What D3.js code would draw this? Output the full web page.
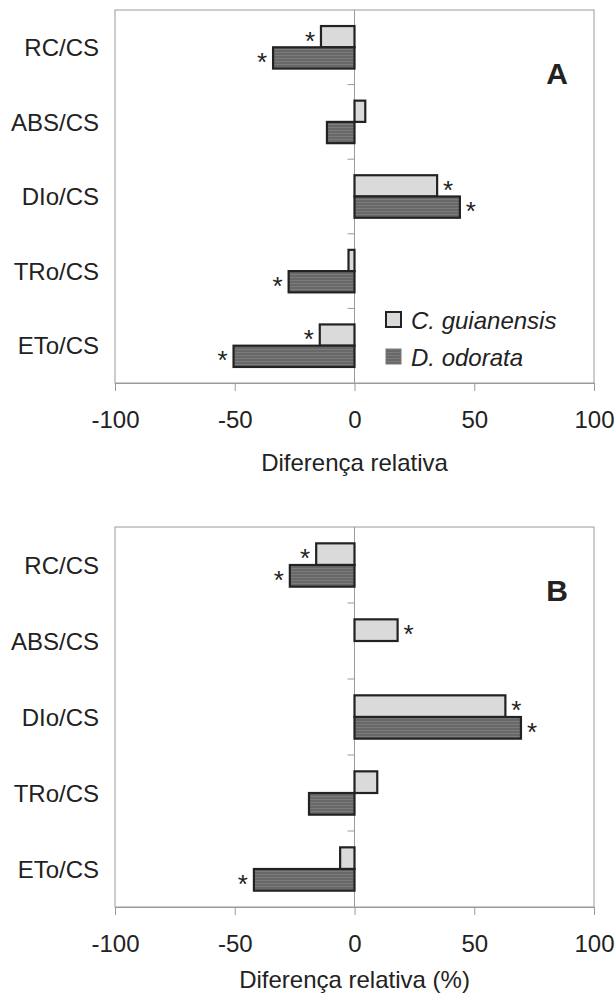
<!DOCTYPE html>
<html>
<head>
<meta charset="utf-8">
<script src="https://cdn.jsdelivr.net/npm/d3@7"></script>
<style>
  body { margin: 0; background: #fff; }
  text { font-family: "Liberation Sans", Arial, sans-serif; fill: #222; }
</style>
</head>
<body>
<script>
const w = 615;
const h = 994;

const categories = ['RC/CS', 'ABS/CS', 'DIo/CS', 'TRo/CS', 'ETo/CS'];
const seriesNames = ['C. guianensis', 'D. odorata'];
const xTicks = [-100, -50, 0, 50, 100];

// panel A
const guianensisA = [-14, 4.5, 34.5, -2.5, -14.5];
const odorataA = [-34, -11.5, 44, -27.5, -50.5];
const sigGuianensisA = [true, false, true, false, true];
const sigOdorataA = [true, false, true, true, true];

// panel B
const guianensisB = [-16, 18, 63, 9.5, -6];
const odorataB = [-27, 0, 69.5, -19, -42];
const sigGuianensisB = [true, true, true, false, false];
const sigOdorataB = [true, false, true, false, true];

const svg = d3.select('body').append('svg')
    .attr('width', w)
    .attr('height', h);

// striped fill for the dark bars
const defs = svg.append('defs');
const pat = defs.append('pattern')
    .attr('id', 'stripes')
    .attr('patternUnits', 'userSpaceOnUse')
    .attr('width', 8)
    .attr('height', 3);
pat.append('rect').attr('width', 8).attr('height', 3).attr('fill', '#686868');
pat.append('rect').attr('y', 1).attr('width', 8).attr('height', 1).attr('fill', '#7c7c7c');

const x = d3.scaleLinear().domain([-100, 100]).range([115, 594]);

function drawPanel(top, bottom, light, dark, sigLight, sigDark, letter, title, titleOffset, legend) {
    const g = svg.append('g');

    const y = d3.scaleBand()
        .domain(categories)
        .range([top, bottom])
        .paddingInner(0.43)
        .paddingOuter(0.215);
    const sub = d3.scaleBand()
        .domain(seriesNames)
        .range([0, y.bandwidth()]);

    // frame
    g.append('rect')
        .attr('x', x(-100))
        .attr('y', top)
        .attr('width', x(100) - x(-100))
        .attr('height', bottom - top)
        .attr('fill', 'none')
        .attr('stroke', '#9a9a9a')
        .attr('stroke-width', 1);

    // zero line with category ticks
    g.append('line')
        .attr('x1', x(0)).attr('x2', x(0))
        .attr('y1', top).attr('y2', bottom)
        .attr('stroke', '#9a9a9a');
    const step = (bottom - top) / categories.length;
    g.selectAll('.ctick')
        .data(d3.range(1, categories.length))
        .enter()
        .append('line')
        .attr('x1', x(0) - 7).attr('x2', x(0))
        .attr('y1', d => top + d * step)
        .attr('y2', d => top + d * step)
        .attr('stroke', '#9a9a9a');

    // x axis
    const axis = g.append('g')
        .attr('transform', `translate(0,${bottom})`)
        .call(d3.axisBottom(x)
            .tickValues(xTicks)
            .tickFormat(d => String(d))
            .tickSize(8)
            .tickSizeOuter(0)
            .tickPadding(20));
    axis.select('.domain').attr('stroke', '#9a9a9a');
    axis.selectAll('.tick line').attr('stroke', '#9a9a9a');
    axis.selectAll('.tick text')
        .attr('font-size', '24px')
        .attr('font-family', '"Liberation Sans", Arial, sans-serif')
        .attr('fill', '#222');

    g.append('text')
        .attr('x', x(0))
        .attr('y', bottom + titleOffset)
        .attr('text-anchor', 'middle')
        .attr('font-size', '24px')
        .text(title);

    // category labels
    g.selectAll('.cat')
        .data(categories)
        .enter()
        .append('text')
        .attr('x', 99)
        .attr('y', d => y(d) + y.bandwidth() / 2)
        .attr('dy', '0.36em')
        .attr('text-anchor', 'end')
        .attr('font-size', '24px')
        .text(d => d);

    const rows = categories.map((c, i) => [
        {cat: c, s: seriesNames[0], v: light[i], sig: sigLight[i], fill: '#dadada'},
        {cat: c, s: seriesNames[1], v: dark[i], sig: sigDark[i], fill: 'url(#stripes)'}
    ]).flat();

    g.selectAll('.bar')
        .data(rows.filter(d => d.v !== 0))
        .enter()
        .append('rect')
        .attr('x', d => x(Math.min(0, d.v)))
        .attr('y', d => y(d.cat) + sub(d.s))
        .attr('width', d => Math.abs(x(d.v) - x(0)))
        .attr('height', sub.bandwidth())
        .attr('fill', d => d.fill)
        .attr('stroke', '#222')
        .attr('stroke-width', 2.2);

    g.selectAll('.star')
        .data(rows.filter(d => d.sig))
        .enter()
        .append('text')
        .attr('x', d => x(d.v) + (d.v < 0 ? -11 : 11))
        .attr('y', d => y(d.cat) + sub(d.s) + sub.bandwidth() / 2 + 13)
        .attr('text-anchor', 'middle')
        .attr('font-size', '26px')
        .text('*');

    g.append('text')
        .attr('x', 557)
        .attr('y', top + 74)
        .attr('text-anchor', 'middle')
        .attr('font-size', '30px')
        .attr('font-weight', 'bold')
        .text(letter);

    if (legend) {
        const lg = g.append('g');
        lg.selectAll('rect')
            .data(seriesNames)
            .enter()
            .append('rect')
            .attr('x', 386)
            .attr('y', (d, i) => 312 + i * 37)
            .attr('width', 15)
            .attr('height', 15)
            .attr('fill', (d, i) => i === 0 ? '#dadada' : 'url(#stripes)')
            .attr('stroke', (d, i) => i === 0 ? '#222' : '#777')
            .attr('stroke-width', (d, i) => i === 0 ? 2 : 1);
        lg.selectAll('text')
            .data(seriesNames)
            .enter()
            .append('text')
            .attr('x', 411)
            .attr('y', (d, i) => 329 + i * 37)
            .attr('font-size', '24px')
            .attr('font-style', 'italic')
            .text(d => d);
    }
}

drawPanel(10, 383, guianensisA, odorataA, sigGuianensisA, sigOdorataA, 'A', 'Diferença relativa', 88, true);
drawPanel(527, 907, guianensisB, odorataB, sigGuianensisB, sigOdorataB, 'B', 'Diferença relativa (%)', 81, false);
</script>
</body>
</html>
